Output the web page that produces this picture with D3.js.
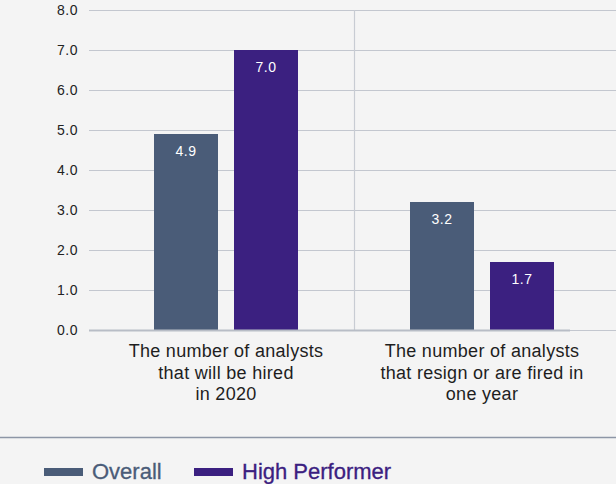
<!DOCTYPE html>
<html><head><meta charset="utf-8">
<script src="https://cdn.jsdelivr.net/npm/d3@7"></script>
<style>html,body{margin:0;padding:0;background:#f4f4f4;}svg{display:block;font-family:"Liberation Sans",Arial,sans-serif;}</style>
</head><body><svg id="c" width="616" height="484"></svg>
<script>
const categories = [
  ["The number of analysts", "that will be hired", "in 2020"],
  ["The number of analysts", "that resign or are fired in", "one year"]
];
const seriesNames = ["Overall", "High Performer"];
const overall = [4.9, 3.2];
const highPerformer = [7.0, 1.7];
const yTicks = [0, 1, 2, 3, 4, 5, 6, 7, 8];
const colors = ["#4a5c78", "#3b2080"];

const svg = d3.select("#c");
const plotTop = 10, plotBottom = 330, gridLeft = 89, gridRight = 616;
const y = d3.scaleLinear().domain([0, 8]).range([plotBottom, plotTop]);
const x0 = d3.scaleBand().domain([0, 1]).range([98, 610]).padding(0);
const x1 = d3.scaleBand().domain([0, 1]).range([56, 200]).paddingInner(0.2);
// gridlines
svg.append("g").selectAll("line").data(yTicks).join("line")
  .attr("x1", gridLeft).attr("x2", gridRight)
  .attr("y1", d => y(d) + 0.5).attr("y2", d => y(d) + 0.5)
  .attr("stroke", "#c3c7cf").attr("stroke-width", 1);
// divider
svg.append("line").attr("x1", x0(1) + 0.5).attr("x2", x0(1) + 0.5)
  .attr("y1", y(8)).attr("y2", y(0))
  .attr("stroke", "#c8ccd3").attr("stroke-width", 1.2);
// y axis labels
const yAxis = d3.axisLeft(y).tickValues(yTicks).tickFormat(d3.format(".1f")).tickSize(0).tickPadding(11);
const ya = svg.append("g").attr("transform", `translate(${gridLeft},0)`).call(yAxis);
ya.select(".domain").remove();
ya.selectAll("text").attr("font-size", 14).attr("letter-spacing", 0.5).attr("fill", "#222")
  .attr("font-family", "Liberation Sans, Arial, sans-serif");

const data = [overall, highPerformer];
data.forEach((vals, s) => {
  const g = svg.append("g");
  g.selectAll("rect").data(vals).join("rect")
    .attr("x", (d, i) => x0(i) + x1(s))
    .attr("width", x1.bandwidth())
    .attr("y", d => y(d)).attr("height", d => y(0) - y(d))
    .attr("fill", colors[s]);
  g.selectAll("text").data(vals).join("text")
    .attr("x", (d, i) => x0(i) + x1(s) + x1.bandwidth() / 2)
    .attr("y", d => y(d) + 22)
    .attr("text-anchor", "middle").attr("fill", "#fff").attr("font-size", 14).attr("letter-spacing", 0.5)
    .text(d => d.toFixed(1));
});
// baseline
svg.append("line").attr("x1", gridLeft).attr("x2", 570)
  .attr("y1", y(0) + 0.5).attr("y2", y(0) + 0.5)
  .attr("stroke", "#b8bdc6").attr("stroke-width", 2);

// category labels
categories.forEach((lines, i) => {
  const t = svg.append("text").attr("text-anchor", "middle").attr("font-size", 18)
    .attr("letter-spacing", 0.3).attr("fill", "#1e1e1e");
  lines.forEach((ln, j) => {
    t.append("tspan").attr("x", x0(i) + x0.bandwidth() / 2).attr("y", 357 + j * 21.5).text(ln);
  });
});

// separator
svg.append("line").attr("x1", 0).attr("x2", 616).attr("y1", 437.5).attr("y2", 437.5)
  .attr("stroke", "#8d96a6").attr("stroke-width", 1.5);

// legend
const legX = [44, 194];
seriesNames.forEach((n, i) => {
  svg.append("rect").attr("x", legX[i]).attr("y", 468).attr("width", 39).attr("height", 8).attr("fill", colors[i]);
  svg.append("text").attr("x", legX[i] + 48).attr("y", 479).attr("font-size", 22)
    .attr("fill", colors[i]).attr("stroke", colors[i]).attr("stroke-width", 0.3).text(n);
});
</script></body></html>
